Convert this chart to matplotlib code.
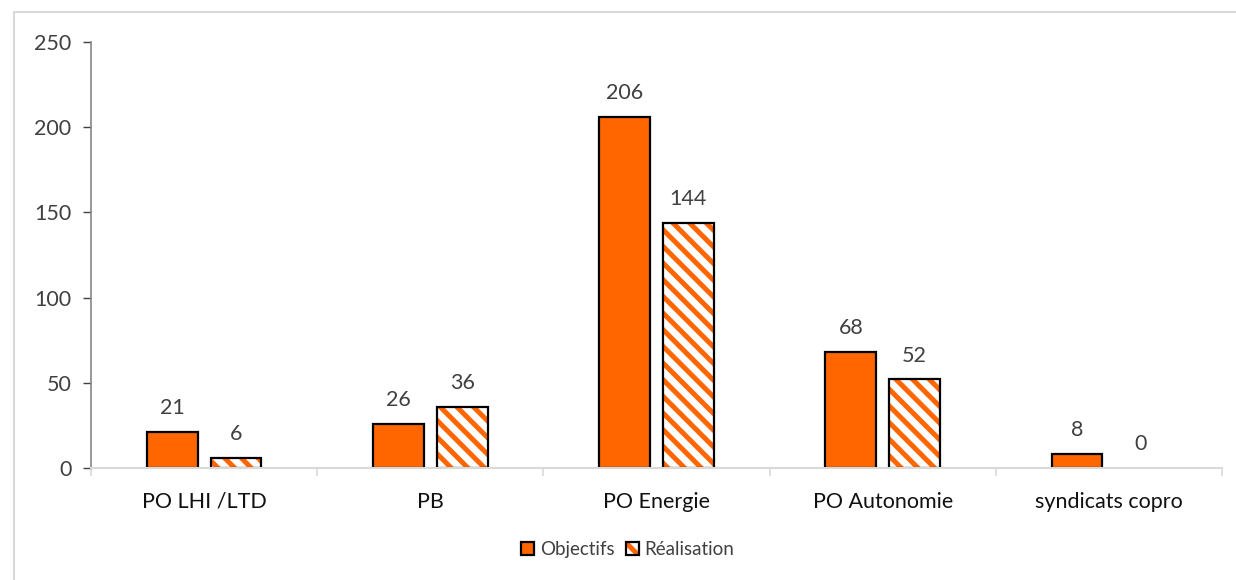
import matplotlib.pyplot as plt
import numpy as np
from matplotlib.patches import Rectangle

plt.rcParams['font.family'] = ['Lato', 'DejaVu Sans']
plt.rcParams['hatch.linewidth'] = 3.6

categories = ['PO LHI /LTD', 'PB', 'PO Energie', 'PO Autonomie', 'syndicats copro']
objectifs = [21, 26, 206, 68, 8]
realisation = [6, 36, 144, 52, 0]

orange = '#ff6600'
grey_txt = '#404040'

fig = plt.figure(figsize=(12.36, 5.8), dpi=100)
ax = fig.add_axes([0.0736, 0.1931, 0.9151, 0.7345])

# cadre gris clair du graphique
fig.patches.append(Rectangle((14 / 1236, -0.1), 1.2, 1 - 12 / 580 + 0.1,
                             transform=fig.transFigure, fill=False,
                             edgecolor='#d9d9d9', linewidth=1.5))

x = np.arange(len(categories))
w = 0.225
off = 0.141
lw = 1.6

b1 = ax.bar(x - off, objectifs, w, color=orange, edgecolor='black', linewidth=lw,
            label='Objectifs')
# hachures orange puis contour noir par-dessus
ax.bar(x + off, realisation, w, color='white', edgecolor=orange, linewidth=0,
       hatch='\\\\')
lw2 = [lw if v > 0 else 0 for v in realisation]
b2 = ax.bar(x + off, realisation, w, fill=False, edgecolor='black', linewidth=lw2)

for bars, vals in ((b1, objectifs), (b2, realisation)):
    for rect, v in zip(bars, vals):
        ax.annotate(str(v), (rect.get_x() + rect.get_width() / 2, v),
                    xytext=(0, 10), textcoords='offset points', ha='center',
                    va='bottom', fontsize=15.5, color=grey_txt)

ax.set_xlim(-0.5, len(categories) - 0.5)
ax.set_ylim(0, 250)
ax.set_yticks(range(0, 251, 50))
ax.tick_params(axis='y', labelsize=15.5, labelcolor=grey_txt, length=6, width=1,
               color='#404040', pad=8)

# séparateurs de catégories sur l'axe des x
ax.set_xticks(np.arange(-0.5, len(categories), 1))
ax.set_xticklabels([])
ax.tick_params(axis='x', length=6, width=1.2, color='#d9d9d9')
ax.set_xticks(x, minor=True)
ax.set_xticklabels(categories, minor=True)
ax.tick_params(axis='x', which='minor', length=0, labelsize=15.5,
               labelcolor='#111111', pad=17)

for s in ('top', 'right'):
    ax.spines[s].set_visible(False)
ax.spines['left'].set_color('#868686')
ax.spines['left'].set_linewidth(1.2)
ax.spines['bottom'].set_color('#d9d9d9')
ax.spines['bottom'].set_linewidth(1.5)

# carré de légende hachuré : fond hachuré orange + contour noir
leg_hatch = Rectangle((0, 0), 1, 1, facecolor='white', edgecolor=orange,
                      linewidth=0, hatch='\\\\')
leg_edge = Rectangle((0, 0), 1, 1, fill=False, edgecolor='black', linewidth=lw)
fig.legend(handles=[b1, (leg_hatch, leg_edge)], labels=['Objectifs', 'Réalisation'],
           loc='center', bbox_to_anchor=(0.508, 0.052), ncol=2, frameon=False,
           fontsize=13.5, handlelength=0.7, handleheight=0.7, handletextpad=0.3,
           columnspacing=0.6, labelcolor=grey_txt)

fig.savefig('out.png', dpi=100)
